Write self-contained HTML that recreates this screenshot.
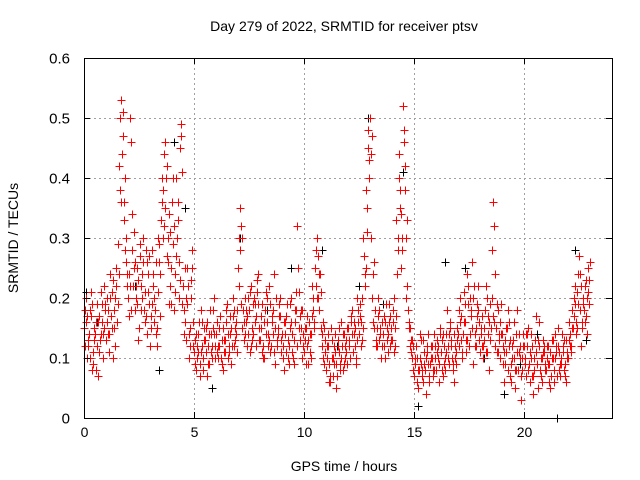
<!DOCTYPE html>
<html><head><meta charset="utf-8"><style>
body{margin:0;background:#fff;}
svg{display:block;font-family:"Liberation Sans",sans-serif;}
</style></head><body>
<svg id="chart" width="640" height="480">
<text x="344" y="31" font-size="14" text-anchor="middle">Day 279 of 2022, SRMTID for receiver ptsv</text>
<text x="344" y="471" font-size="14" text-anchor="middle">GPS time / hours</text>
<text transform="translate(18,238) rotate(-90)" font-size="14" text-anchor="middle">SRMTID / TECUs</text>
<g id="grid"></g><g id="marks" shape-rendering="crispEdges"></g><g id="axes" shape-rendering="crispEdges"></g>
</svg>
<script>
const xTicks=[0,5,10,15,20];
const yTicks=[0,0.1,0.2,0.3,0.4,0.5,0.6];
const yTickLabels=["0","0.1","0.2","0.3","0.4","0.5","0.6"];
const valsA=[.15,.20,.12,.17,.09,.14,.19,.11,.16,.22,
.13,.18,.24,.10,.20,.16,.42,.53,.33,.26,
.20,.50,.28,.18,.25,.15,.22,.30,.17,.24,
.12,.28,.20,.15,.26,.33,.38,.46,.30,.22,
.36,.18,.40,.26,.49,.22,.16,.25,.12,.28,
.11,.08,.14,.18,.10,.13,.16,.09,.12,.20,
.14,.10,.17,.08,.13,.19,.11,.15,.12,.16,
.25,.35,.15,.20,.12,.18,.22,.14,.17,.24,
.13,.19,.10,.16,.22,.12,.18,.09,.15,.20,
.14,.08,.17,.12,.20,.10,.16,.32,.13,.18,
.11,.15,.09,.14,.20,.25,.30,.18,.12,.15,
.08,.12,.06,.10,.14,.07,.11,.16,.09,.13,
.15,.10,.18,.12,.20,.14,.16,.30,.25,.45,
.50,.20,.15,.12,.18,.10,.14,.16,.11,.17,
.13,.20,.33,.44,.25,.52,.38,.22,.15,.10,
.07,.12,.05,.09,.13,.08,.11,.06,.10,.14,
.08,.12,.15,.07,.10,.18,.09,.13,.06,.11,
.14,.20,.10,.16,.24,.12,.18,.09,.15,.22,
.11,.17,.13,.20,.08,.15,.36,.12,.18,.10,
.14,.06,.11,.16,.09,.13,.05,.18,.10,.08,
.12,.07,.15,.10,.04,.13,.09,.16,.06,.11,
.08,.12,.05,.10,.14,.07,.11,.09,.13,.06,
.10,.14,.18,.22,.15,.27,.12,.20,.17,.25,.26];
const valsB=[.12,.17,.10,.19,.13,.08,.16,.21,.14,.18,
.16,.11,.21,.15,.25,.19,.38,.47,.28,.22,
.24,.18,.31,.22,.13,.27,.20,.16,.26,.19,
.17,.22,.14,.30,.24,.40,.32,.27,.19,.25,
.29,.21,.33,.45,.19,.14,.20,.10,.23,.16,
.13,.10,.07,.12,.15,.11,.09,.14,.18,.12,
.11,.15,.09,.13,.18,.10,.14,.20,.13,.18,
.30,.19,.13,.16,.20,.11,.15,.19,.23,.13,
.17,.12,.21,.14,.11,.17,.24,.13,.19,.11,
.12,.16,.10,.19,.14,.09,.21,.15,.18,.12,
.13,.17,.11,.22,.16,.28,.20,.15,.10,.13,
.10,.06,.13,.09,.05,.12,.08,.14,.10,.15,
.12,.17,.14,.09,.16,.19,.13,.22,.35,.40,
.30,.16,.13,.20,.14,.12,.17,.13,.19,.15,
.16,.12,.28,.38,.30,.46,.20,.15,.11,.08,
.10,.06,.14,.08,.11,.04,.09,.12,.07,.10,
.11,.06,.13,.09,.14,.10,.16,.08,.12,.15,
.18,.13,.21,.11,.19,.14,.26,.12,.17,.13,
.15,.10,.22,.14,.19,.28,.16,.11,.14,.19,
.09,.13,.18,.07,.12,.16,.08,.11,.03,.14,
.09,.14,.06,.12,.08,.17,.05,.10,.13,.08,
.10,.06,.13,.08,.11,.15,.07,.12,.09,.11,
.16,.12,.20,.14,.24,.18,.16,.22,.14,.19];
const valsC=[.18,.10,.14,.21,.11,.16,.07,.13,.19,.15,
.20,.14,.17,.23,.12,.29,.50,.44,.36,.30,
.17,.46,.22,.26,.19,.29,.24,.18,.28,.21,
.15,.24,.18,.12,.29,.36,.44,.40,.26,.31,
.40,.24,.30,.20,.47,.18,.13,.22,.15,.25,
.09,.12,.16,.11,.08,.15,.12,.18,.10,.14,
.16,.12,.10,.15,.11,.14,.17,.12,.18,.14,
.22,.32,.18,.14,.17,.21,.13,.20,.12,.19,
.15,.10,.18,.20,.13,.16,.11,.20,.14,.17,
.10,.14,.19,.09,.16,.13,.18,.25,.17,.10,
.15,.12,.16,.10,.18,.22,.27,.24,.14,.09,
.12,.09,.15,.07,.11,.13,.09,.12,.14,.11,
.13,.16,.11,.15,.13,.17,.20,.27,.38,.48,
.44,.24,.18,.15,.13,.16,.12,.19,.14,.12,
.18,.15,.24,.40,.34,.48,.30,.18,.12,.13,
.09,.10,.08,.13,.06,.10,.14,.09,.12,.08,
.13,.09,.11,.14,.08,.12,.15,.10,.14,.09,
.12,.17,.14,.19,.13,.20,.15,.22,.12,.18,
.14,.12,.18,.11,.16,.20,.32,.15,.11,.16,
.12,.09,.15,.12,.06,.10,.14,.08,.12,.10,
.10,.12,.09,.14,.07,.11,.13,.08,.10,.12,
.12,.09,.07,.13,.10,.12,.09,.14,.08,.13,
.13,.11,.15,.19,.21,.24,.15,.18,.23,.21];
const valsD=[.16,.13,.18,.08,.15,.12,.17,.14,.10,.19,
.14,.20,.15,.18,.22,.24,.36,.51,.40,.24,
.22,.34,.25,.20,.23,.18,.26,.21,.14,.27,
.19,.16,.26,.21,.17,.30,.35,.42,.34,.19,
.32,.27,.36,.23,.41,.25,.19,.14,.20,.12,
.14,.11,.09,.16,.13,.07,.14,.11,.15,.10,
.12,.17,.13,.11,.16,.12,.09,.17,.15,.11,
.28,.30,.16,.18,.14,.12,.19,.16,.21,.15,
.11,.16,.14,.12,.19,.14,.15,.12,.17,.13,
.16,.11,.13,.15,.11,.18,.12,.21,.15,.14,
.09,.13,.14,.17,.15,.20,.24,.21,.16,.11,
.14,.07,.10,.12,.09,.15,.10,.08,.12,.09,
.10,.14,.16,.10,.18,.12,.15,.24,.31,.43,
.47,.26,.12,.17,.15,.14,.10,.15,.16,.13,
.11,.17,.30,.35,.28,.42,.33,.16,.13,.12,
.12,.08,.10,.07,.09,.12,.07,.10,.08,.12,
.10,.14,.08,.12,.11,.14,.12,.09,.10,.13,
.16,.11,.16,.13,.22,.17,.20,.14,.19,.16,
.12,.15,.11,.17,.13,.17,.24,.19,.13,.14,
.11,.15,.08,.13,.10,.08,.11,.14,.07,.12,
.14,.08,.11,.07,.10,.09,.12,.07,.11,.09,
.09,.11,.10,.06,.12,.08,.10,.11,.07,.10,
.12,.15,.17,.16,.19,.22,.19,.16,.20,.23];
const blackT=[0.1,0.6,1.7,2.3,3.4,4.1,4.6,5.8,7.1,8.3,9.4,10.8,11.5,12.5,12.9,13.6,14.5,15.2,16.4,17.3,18.2,19.1,19.8,20.6,21.5,22.3,22.8];
const blackV=[.21,.16,.53,.22,.08,.46,.35,.05,.30,.18,.25,.28,.12,.22,.50,.19,.41,.02,.26,.25,.10,.04,.09,.14,.0,.28,.13];
const X0=84,X1=612,Y0=418,Y1=58;
const xs=t=>X0+(t/24)*(X1-X0);
const ys=v=>Y0-(v/0.6)*(Y0-Y1);
const NS="http://www.w3.org/2000/svg";
function mk(tag,attrs,parent){const e=document.createElementNS(NS,tag);for(const k in attrs)e.setAttribute(k,attrs[k]);parent.appendChild(e);return e;}
const grid=document.getElementById('grid'),axes=document.getElementById('axes'),marks=document.getElementById('marks');
xTicks.forEach(t=>{
 const x=Math.round(xs(t))+0.5;
 if(t>0){const g=mk('line',{x1:x,x2:x,y1:Y1,y2:Y0,stroke:'#a0a0a0','stroke-dasharray':'2,3'},grid);
 
 }
 mk('line',{x1:x,x2:x,y1:Y0,y2:Y0-6,stroke:'#000'},axes);
 mk('line',{x1:x,x2:x,y1:Y1,y2:Y1+6,stroke:'#000'},axes);
 const l=mk('text',{x:x,y:Y0+19,'font-size':14,'text-anchor':'middle'},axes);l.textContent=t;
 
 
});
yTicks.forEach((v,i)=>{
 const y=Math.round(ys(v))+0.5;
 if(i>0&&i<yTicks.length-1){const g=mk('line',{x1:X0,x2:X1,y1:y,y2:y,stroke:'#a0a0a0','stroke-dasharray':'2,3'},grid);
 
 }
 mk('line',{x1:X0,x2:X0+6,y1:y,y2:y,stroke:'#000'},axes);
 mk('line',{x1:X1,x2:X1-6,y1:y,y2:y,stroke:'#000'},axes);
 const l=mk('text',{x:X0-14,y:y+5,'font-size':15,'text-anchor':'end'},axes);l.textContent=yTickLabels[i];
 
 
});
const frame=mk('rect',{x:X0+0.5,y:Y1+0.5,width:X1-X0,height:Y0-Y1,fill:'none',stroke:'#000'},axes);


function cross(t,v,color,name){
 const x=Math.round(xs(t))+0.5,y=Math.round(ys(v))+0.5;
 const p=mk('path',{d:`M${x-4},${y}H${x+4}M${x},${y-4}V${y+4}`,stroke:color,'stroke-width':1,fill:'none'},marks);
 
 
}
blackT.forEach((t,i)=>cross(t,blackV[i],'#000','black-point'));
valsA.forEach((v,i)=>cross(i*0.1,v,'#f00','red-point'));
valsB.forEach((v,i)=>cross(i*0.1+0.05,v,'#f00','red-point'));
valsC.forEach((v,i)=>cross(i*0.1+0.025,v,'#f00','red-point'));
valsD.forEach((v,i)=>cross(i*0.1+0.075,v,'#f00','red-point'));
</script>
</body></html>
